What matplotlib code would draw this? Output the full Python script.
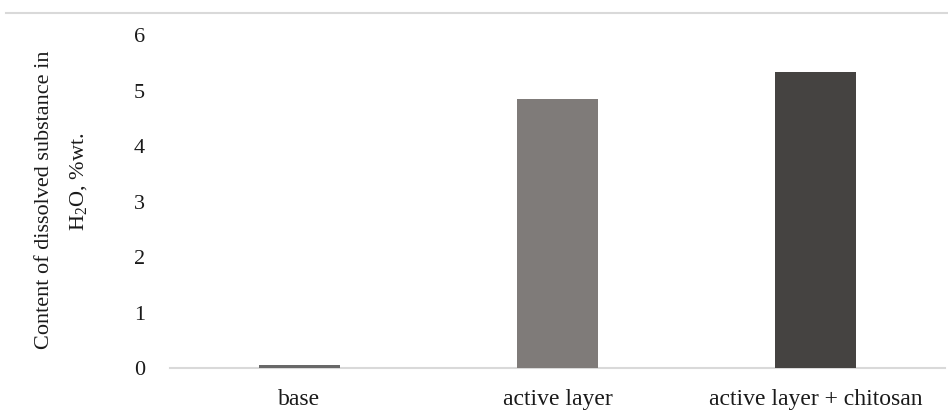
import matplotlib
matplotlib.use("Agg")
import matplotlib.pyplot as plt
from matplotlib.lines import Line2D

categories = ["base", "active layer", "active layer + chitosan"]
values = [0.05, 4.84, 5.33]
bar_colors = ["#686868", "#7f7b79", "#454341"]
y_ticks = [0, 1, 2, 3, 4, 5, 6]
y_label_lines = ["Content of dissolved substance in", "H$_2$O, %wt."]

plt.rcParams["font.family"] = ["Liberation Serif", "DejaVu Serif"]
plt.rcParams["mathtext.fontset"] = "custom"
plt.rcParams["mathtext.rm"] = "Liberation Serif"
plt.rcParams["mathtext.it"] = "Liberation Serif:italic"

text_color = "#1a1a1a"

fig = plt.figure(figsize=(9.48, 4.11), dpi=100)
ax = fig.add_axes([170 / 948, 43 / 411, 775 / 948, 333 / 411])

x = range(len(categories))
ax.bar(x, values, width=0.314, color=bar_colors, zorder=3)

ax.set_xlim(-0.5, len(categories) - 0.5)
ax.set_ylim(0, 6)
ax.set_yticks(y_ticks)
ax.set_yticklabels([str(t) for t in y_ticks])
ax.set_xticks(list(x))
ax.set_xticklabels(categories)

ax.tick_params(axis="y", length=0, pad=18, labelsize=16, colors=text_color)
ax.tick_params(axis="x", length=0, pad=15, labelsize=17, colors=text_color)

for side in ("top", "right", "left"):
    ax.spines[side].set_visible(False)
ax.spines["bottom"].set_color("#d9d9d9")
ax.spines["bottom"].set_linewidth(1.5)
ax.spines["bottom"].set_zorder(2)

# two-line rotated axis title, each line centred on its own
fig.text(45 / 948, 1 - 200 / 411, y_label_lines[0], rotation=90,
         ha="center", va="center", fontsize=16, color=text_color)
fig.text(79 / 948, 1 - 182 / 411, y_label_lines[1], rotation=90,
         ha="center", va="center", fontsize=16, color=text_color)

# light border line along the top of the chart area
fig.add_artist(Line2D([6 / 948, 1.0], [1 - 13 / 411, 1 - 13 / 411],
                      transform=fig.transFigure, color="#d9d9d9", lw=1.5))

fig.savefig("out.png", dpi=100)
